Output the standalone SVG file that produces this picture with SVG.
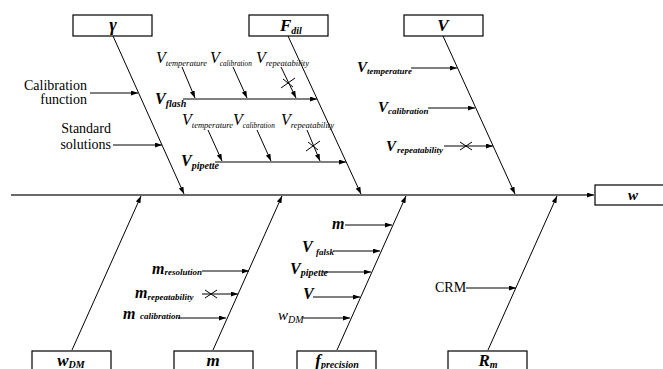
<svg xmlns="http://www.w3.org/2000/svg" width="663" height="369" viewBox="0 0 663 369">
<defs>
<marker id="ah" markerWidth="7" markerHeight="5" refX="7" refY="2.5" orient="auto" markerUnits="userSpaceOnUse">
<path d="M0,0 L7,2.5 L0,5 Z" fill="#000"/>
</marker>
<style>
.box{fill:#fff;stroke:#000;stroke-width:1.2}
.ar{stroke:#000;stroke-width:1;fill:none;marker-end:url(#ah)}
.x{stroke:#000;stroke-width:1}
text{font-family:"Liberation Serif","Times New Roman",serif;fill:#000}
.bi{font-style:italic;font-weight:bold}
.it{font-style:italic}
.plain{font-size:14px}
</style>
</defs>
<rect width="663" height="369" fill="#fff"/>

<g id="connectors">
<path class="ar" d="M11,195 L594,195" style="stroke:#6a6a6a;stroke-width:2"/>
<path class="ar" d="M113,36 L184,194"/>
<path class="ar" d="M288,36 L361,194"/>
<path class="ar" d="M443,36 L515,194"/>
<path class="ar" d="M72,350 L141,196"/>
<path class="ar" d="M213,350 L282,196"/>
<path class="ar" d="M337,350 L406,196"/>
<path class="ar" d="M488,350 L557,196"/>

<path class="ar" d="M90,93 L138,93"/>
<path class="ar" d="M113,145 L162,145"/>

<path class="ar" d="M183,99 L317,99"/>
<path class="ar" d="M182,67 L195,98"/>
<path class="ar" d="M233,67 L247,98"/>
<path class="ar" d="M281,67 L296,98"/>
<path class="x" d="M281,88 L295,78 M283,79 L293,87"/>
<path class="ar" d="M215,162 L346,162"/>
<path class="ar" d="M208,130 L222,161"/>
<path class="ar" d="M257,130 L271,161"/>
<path class="ar" d="M307,130 L320,161"/>
<path class="x" d="M306,151 L320,141 M308,142 L318,150"/>

<path class="ar" d="M411,68 L457,68"/>
<path class="ar" d="M428,108 L475,108"/>
<path class="ar" d="M444,146 L493,146"/>
<path class="x" d="M460,142 L472,150 M460,150 L472,142"/>

<path class="ar" d="M202,271 L249,271"/>
<path class="ar" d="M202,294 L238,294"/>
<path class="x" d="M205,290 L217,298 M205,298 L217,290"/>
<path class="ar" d="M178,318 L226,318"/>

<path class="ar" d="M345,225 L392,225"/>
<path class="ar" d="M333,251 L380,251"/>
<path class="ar" d="M323,272 L371,272"/>
<path class="ar" d="M313,297 L360,297"/>
<path class="ar" d="M303,318 L350,318"/>

<path class="ar" d="M466,288 L516,288"/>
</g>

<g id="node-gamma">
<rect class="box" x="73" y="15" width="79" height="21"/>
<text x="113" y="31" text-anchor="middle" class="bi" font-size="18">γ</text>
</g>
<g id="node-fdil">
<rect class="box" x="249" y="15" width="79" height="21"/>
<text x="280" y="31" class="bi" font-size="17">F<tspan font-size="10" dy="3">dil</tspan></text>
</g>
<g id="node-V">
<rect class="box" x="404" y="15" width="79" height="21"/>
<text x="443" y="31" text-anchor="middle" class="bi" font-size="17">V</text>
</g>
<g id="node-w">
<rect class="box" x="595" y="185" width="72" height="20"/>
<text x="633" y="200" text-anchor="middle" class="bi" font-size="15">w</text>
</g>
<g id="node-wdm">
<rect class="box" x="32" y="351" width="79" height="22"/>
<text x="71" y="366" text-anchor="middle" class="bi" font-size="17">w<tspan font-size="10" dy="2">DM</tspan></text>
</g>
<g id="node-m">
<rect class="box" x="174" y="351" width="79" height="22"/>
<text x="213" y="366" text-anchor="middle" class="bi" font-size="17">m</text>
</g>
<g id="node-fprec">
<rect class="box" x="297" y="351" width="79" height="22"/>
<text x="337" y="366" text-anchor="middle" class="bi" font-size="17">f<tspan font-size="10" dy="2">precision</tspan></text>
</g>
<g id="node-Rm">
<rect class="box" x="448" y="351" width="79" height="22"/>
<text x="488" y="366" text-anchor="middle" class="bi" font-size="17">R<tspan font-size="10" dy="2">m</tspan></text>
</g>

<g id="labels-gamma">
<text x="87" y="90" text-anchor="end" class="plain">Calibration</text>
<text x="87" y="104" text-anchor="end" class="plain">function</text>
<text x="111" y="133" text-anchor="end" class="plain">Standard</text>
<text x="111" y="149" text-anchor="end" class="plain">solutions</text>
</g>

<g id="labels-fdil">
<text x="156" y="63" class="it" font-size="16">V<tspan font-size="8.5" dy="3">temperature</tspan></text>
<text x="210" y="63" class="it" font-size="16">V<tspan font-size="8.5" dy="3" textLength="32" lengthAdjust="spacingAndGlyphs">calibration</tspan></text>
<text x="256" y="63" class="it" font-size="16">V<tspan font-size="8.5" dy="3">repeatability</tspan></text>
<text x="155" y="104" class="bi" font-size="16">V<tspan font-size="10" dy="3">flash</tspan></text>
<text x="182" y="125" class="it" font-size="16">V<tspan font-size="8.5" dy="3">temperature</tspan></text>
<text x="233" y="125" class="it" font-size="16">V<tspan font-size="8.5" dy="3" textLength="32" lengthAdjust="spacingAndGlyphs">calibration</tspan></text>
<text x="281" y="125" class="it" font-size="16">V<tspan font-size="8.5" dy="3">repeatability</tspan></text>
<text x="181" y="166" class="bi" font-size="16">V<tspan font-size="10" dy="3">pipette</tspan></text>
</g>

<g id="labels-V">
<text x="357" y="72" class="bi" font-size="15">V<tspan font-size="9" dy="2">temperature</tspan></text>
<text x="378" y="112" class="bi" font-size="15">V<tspan font-size="9" dy="2">calibration</tspan></text>
<text x="386" y="151" class="bi" font-size="15">V<tspan font-size="9" dy="2" x="397">repeatability</tspan></text>
</g>

<g id="labels-m">
<text x="152" y="274" class="bi" font-size="16">m<tspan font-size="9" dy="1">resolution</tspan></text>
<text x="135" y="298" class="bi" font-size="16">m<tspan font-size="9" dy="2">repeatability</tspan></text>
<text x="123" y="319" class="bi" font-size="16">m<tspan font-size="9" x="140">calibration</tspan></text>
</g>

<g id="labels-fprec">
<text x="332" y="229" class="bi" font-size="16">m</text>
<text x="302" y="252" class="bi" font-size="16">V<tspan font-size="9" dy="3" x="316">falsk</tspan></text>
<text x="290" y="274" class="bi" font-size="16">V<tspan font-size="10" dy="2">pipette</tspan></text>
<text x="303" y="299" class="bi" font-size="16">V</text>
<text x="278" y="320" class="it" font-size="15">w<tspan font-size="10" dy="3">DM</tspan></text>
</g>

<g id="labels-Rm">
<text x="435" y="292" class="plain">CRM</text>
</g>
</svg>
